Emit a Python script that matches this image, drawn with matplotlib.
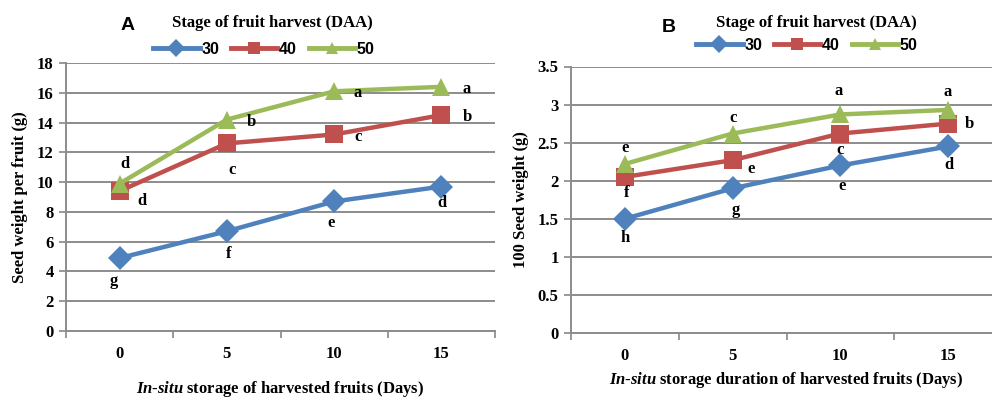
import matplotlib
matplotlib.use("Agg")
import matplotlib.pyplot as plt
from matplotlib.lines import Line2D

days = [0, 5, 10, 15]
stages = ["30", "40", "50"]

# Panel A: seed weight per fruit (g)
a_30 = [4.9, 6.7, 8.7, 9.7]
a_40 = [9.4, 12.6, 13.2, 14.5]
a_50 = [9.9, 14.2, 16.1, 16.4]
a_lbl_30 = ["g", "f", "e", "d"]
a_lbl_40 = ["d", "c", "c", "b"]
a_lbl_50 = ["d", "b", "a", "a"]

# Panel B: 100 seed weight (g)
b_30 = [1.5, 1.9, 2.2, 2.45]
b_40 = [2.05, 2.27, 2.62, 2.75]
b_50 = [2.22, 2.62, 2.87, 2.93]
b_lbl_30 = ["h", "g", "e", "d"]
b_lbl_40 = ["f", "e", "c", "b"]
b_lbl_50 = ["e", "c", "a", "a"]

colors = ["#4F81BD", "#C0504D", "#9BBB59"]
markers = ["D", "s", "^"]
msizes = [12.5, 12.5, 13]

plt.rcParams["mathtext.fontset"] = "custom"
plt.rcParams["mathtext.it"] = "Liberation Serif:italic:bold"
plt.rcParams["mathtext.rm"] = "Liberation Serif:bold"
plt.rcParams["mathtext.bf"] = "Liberation Serif:bold"

W, H = 992, 398
fig = plt.figure(figsize=(W / 100, H / 100), dpi=100)

serif = "Liberation Serif"
sans = "Liberation Sans"


def px_axes(l, t, r, b):
    return fig.add_axes([l / W, 1 - b / H, (r - l) / W, (b - t) / H])


def style(ax, ymax, ystep, yfmt):
    ax.set_xlim(-2.5, 17.5)
    ax.set_ylim(0, ymax)
    yt = [i * ystep for i in range(int(round(ymax / ystep)) + 1)]
    ax.set_yticks(yt)
    ax.set_yticklabels([yfmt(v) for v in yt], fontfamily=serif, fontweight="bold", fontsize=12)
    ax.set_xticks([-2.5, 2.5, 7.5, 12.5, 17.5])
    ax.set_xticklabels([])
    ax.set_xticks(days, minor=True)
    ax.set_xticklabels([str(d) for d in days], minor=True, fontfamily=serif,
                       fontweight="bold", fontsize=12)
    ax.tick_params(axis="x", which="minor", length=0, pad=11)
    ax.tick_params(axis="x", which="major", length=5, color="#888888", width=1.2)
    ax.tick_params(axis="y", length=5, color="#888888", width=1.2, pad=4)
    ax.grid(axis="y", color="#8c8c8c", linewidth=1.4)
    ax.set_axisbelow(True)
    for s in ["top", "right"]:
        ax.spines[s].set_visible(False)
    for s in ["left", "bottom"]:
        ax.spines[s].set_color("#8c8c8c")
        ax.spines[s].set_linewidth(1.4)
    ax.patch.set_alpha(0)


def draw(ax, series, labels, offsets):
    for i, ys in enumerate(series):
        ax.plot(days, ys, color=colors[i], lw=3.2, marker=markers[i], ms=msizes[i],
                markeredgewidth=0, zorder=3 + i)
        for j, (x, y) in enumerate(zip(days, ys)):
            dx, dy = offsets[i][j]
            ax.annotate(labels[i][j], (x, y), xytext=(dx, -dy), textcoords="offset pixels",
                        ha="center", va="center", fontfamily=serif, fontweight="bold",
                        fontsize=12, zorder=10)


def legend(cx, cy):
    handles = [Line2D([], [], color=c, lw=3.5, marker=m, ms=ms * 0.7, markeredgewidth=0)
               for c, m, ms in zip(colors, markers, msizes)]
    fig.legend(handles, stages, loc="center", bbox_to_anchor=(cx / W, 1 - cy / H), ncol=3,
               frameon=False, handlelength=2.9, handletextpad=0.1, columnspacing=0.75,
               prop={"family": sans, "weight": "bold", "size": 11.5}, borderpad=0)


# Panel A
axA = px_axes(66, 63, 495, 331)
style(axA, 18, 2, lambda v: f"{v:g}")
offA = [
    [(-6, 23), (2, 23), (-3, 22), (1, 16)],
    [(22, 10), (5, 27), (24, 3), (26, 2)],
    [(5, -20), (25, 2), (24, 2), (25, 2)],
]
draw(axA, [a_30, a_40, a_50], [a_lbl_30, a_lbl_40, a_lbl_50], offA)
axA.set_ylabel("Seed weight per fruit (g)", fontfamily=serif, fontweight="bold", fontsize=12,
               labelpad=6)
axA.set_xlabel("$\\it{In}$-$\\it{situ}$ storage of harvested fruits (Days)", fontfamily=serif,
               fontweight="bold", fontsize=12, labelpad=12)
fig.text(128 / W, 1 - 26 / H, "A", ha="center", va="center", fontfamily=sans,
         fontweight="bold", fontsize=14)
fig.text(272 / W, 1 - 23 / H, "Stage of fruit harvest (DAA)", ha="center", va="center",
         fontfamily=serif, fontweight="bold", fontsize=12)
legend(264, 49)

# Panel B
axB = px_axes(571, 66.5, 1002, 333)
style(axB, 3.5, 0.5, lambda v: f"{v:g}")
offB = [
    [(0, 19), (3, 22), (2, 21), (1, 19)],
    [(2, 16), (18, 9), (0, 16), (21, 0)],
    [(0, -16), (0, -16), (-2, -23), (-1, -18)],
]
draw(axB, [b_30, b_40, b_50], [b_lbl_30, b_lbl_40, b_lbl_50], offB)
axB.set_ylabel("100 Seed weight (g)", fontfamily=serif, fontweight="bold", fontsize=12,
               labelpad=6)
axB.set_xlabel("$\\it{In}$-$\\it{situ}$ storage duration of harvested fruits (Days)",
               fontfamily=serif, fontweight="bold", fontsize=12, labelpad=4)
fig.text(669 / W, 1 - 27 / H, "B", ha="center", va="center", fontfamily=sans,
         fontweight="bold", fontsize=14)
fig.text(816 / W, 1 - 23 / H, "Stage of fruit harvest (DAA)", ha="center", va="center",
         fontfamily=serif, fontweight="bold", fontsize=12)
legend(807, 45)

fig.savefig("out.png", dpi=100)
